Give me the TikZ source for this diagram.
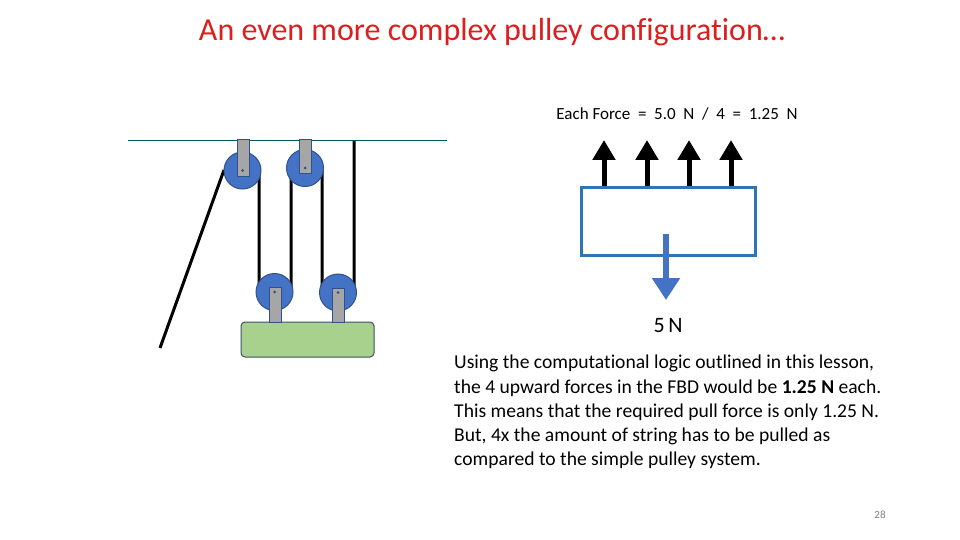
\documentclass[tikz,border=0pt]{standalone}
\usepackage{fontspec}
\setmainfont{Carlito}[Ligatures=NoCommon]
\usetikzlibrary{arrows.meta}
\definecolor{pblue}{RGB}{68,114,196}
\definecolor{pedge}{RGB}{47,82,143}
\definecolor{fbdblue}{RGB}{46,117,182}
\definecolor{bgreen}{RGB}{169,209,142}
\definecolor{bedge}{RGB}{60,80,100}
\definecolor{ttlred}{RGB}{220,30,30}
\begin{document}
\begin{tikzpicture}[x=1pt,y=-1pt,
  wheel/.style={circle,fill=pblue,draw=pedge,line width=1pt,minimum size=37pt,inner sep=0pt},
  brk/.style={fill=gray!70,draw=pedge,line width=0.6pt},
  axle/.style={circle,fill=pedge,inner sep=0pt,minimum size=3pt},
  rope/.style={line width=3pt,black},
  up/.style={-{Triangle[width=22pt,length=20pt]},line width=5pt,black},
  txt/.style={font=\fontsize{19.6}{24.2}\selectfont,align=left,anchor=north west,inner sep=0pt}]
\useasboundingbox (0,0) rectangle (960,540);
\node[font=\fontsize{32}{36}\selectfont,text=ttlred] (title) at (492,32) {An even more complex pulley configuration…};
% ceiling
\coordinate (cl) at (128,140); \coordinate (cr) at (447,140);
\draw[teal!70!black,line width=0.8pt] (cl) -- (cr);
% ropes
\coordinate (r1t) at (259,172); \coordinate (r1b) at (259,292);
\coordinate (r2t) at (291,170); \coordinate (r2b) at (291,292);
\coordinate (r3t) at (322,170); \coordinate (r3b) at (322,292);
\coordinate (r4t) at (354,141); \coordinate (r4b) at (354,292);
\coordinate (lt) at (224,170); \coordinate (lb) at (160,348);
\draw[rope] (r1t)--(r1b) (r2t)--(r2b) (r3t)--(r3b) (r4t)--(r4b) (lt)--(lb);
% load
\node[fill=bgreen,draw=bedge,line width=1pt,rounded corners=4pt,minimum width=133pt,minimum height=35pt,inner sep=0pt] (load) at (307.5,339.5) {};
% top pulleys
\node[wheel] (p1) at (242.5,170.5) {};
\node[wheel] (p2) at (305,168) {};
\draw[brk] (237,139) rectangle (249,176);
\draw[brk] (299,139) rectangle (311,173);
\node[axle] at (p1) {}; \node[axle] at (p2) {};
% bottom pulleys
\node[wheel] (p3) at (274.5,292) {};
\node[wheel] (p4) at (338,292.5) {};
\draw[brk] (269,287) rectangle (281,322);
\draw[brk] (332,288) rectangle (344,322);
\node[axle] at (p3) {}; \node[axle] at (p4) {};
% FBD
\node[font=\fontsize{17}{20}\selectfont] (ef) at (677,114) {Each Force \ = \ 5.0 \ N \ / \ 4 \ = \ 1.25 \ N};
\node[draw=fbdblue,line width=3pt,minimum width=174pt,minimum height=68pt,inner sep=0pt] (box) at (668.5,221.5) {};
\foreach \x [count=\i] in {604,647,689,731}{
  \coordinate (b\i) at (\x,186); \coordinate (t\i) at (\x,140);
  \draw[up] (b\i) -- (t\i);}
\coordinate (ws) at (666,234); \coordinate (we) at (666,300);
\draw[-{Triangle[width=27pt,length=22pt]},line width=6pt,pblue] (ws) -- (we);
\node[font=\fontsize{22}{26}\selectfont] (fn) at (668,326) {5\,N};
\node[txt] (para) at (454,355) {Using the computational logic outlined in this lesson,\\
the 4 upward forces in the FBD would be \textbf{1.25 N} each.\\
This means that the required pull force is only 1.25 N.\\
But, 4x the amount of string has to be pulled as\\
compared to the simple pulley system.};
\node[font=\fontsize{11}{13}\selectfont,text=gray] (pg) at (880,515) {28};
\end{tikzpicture}
\end{document}
